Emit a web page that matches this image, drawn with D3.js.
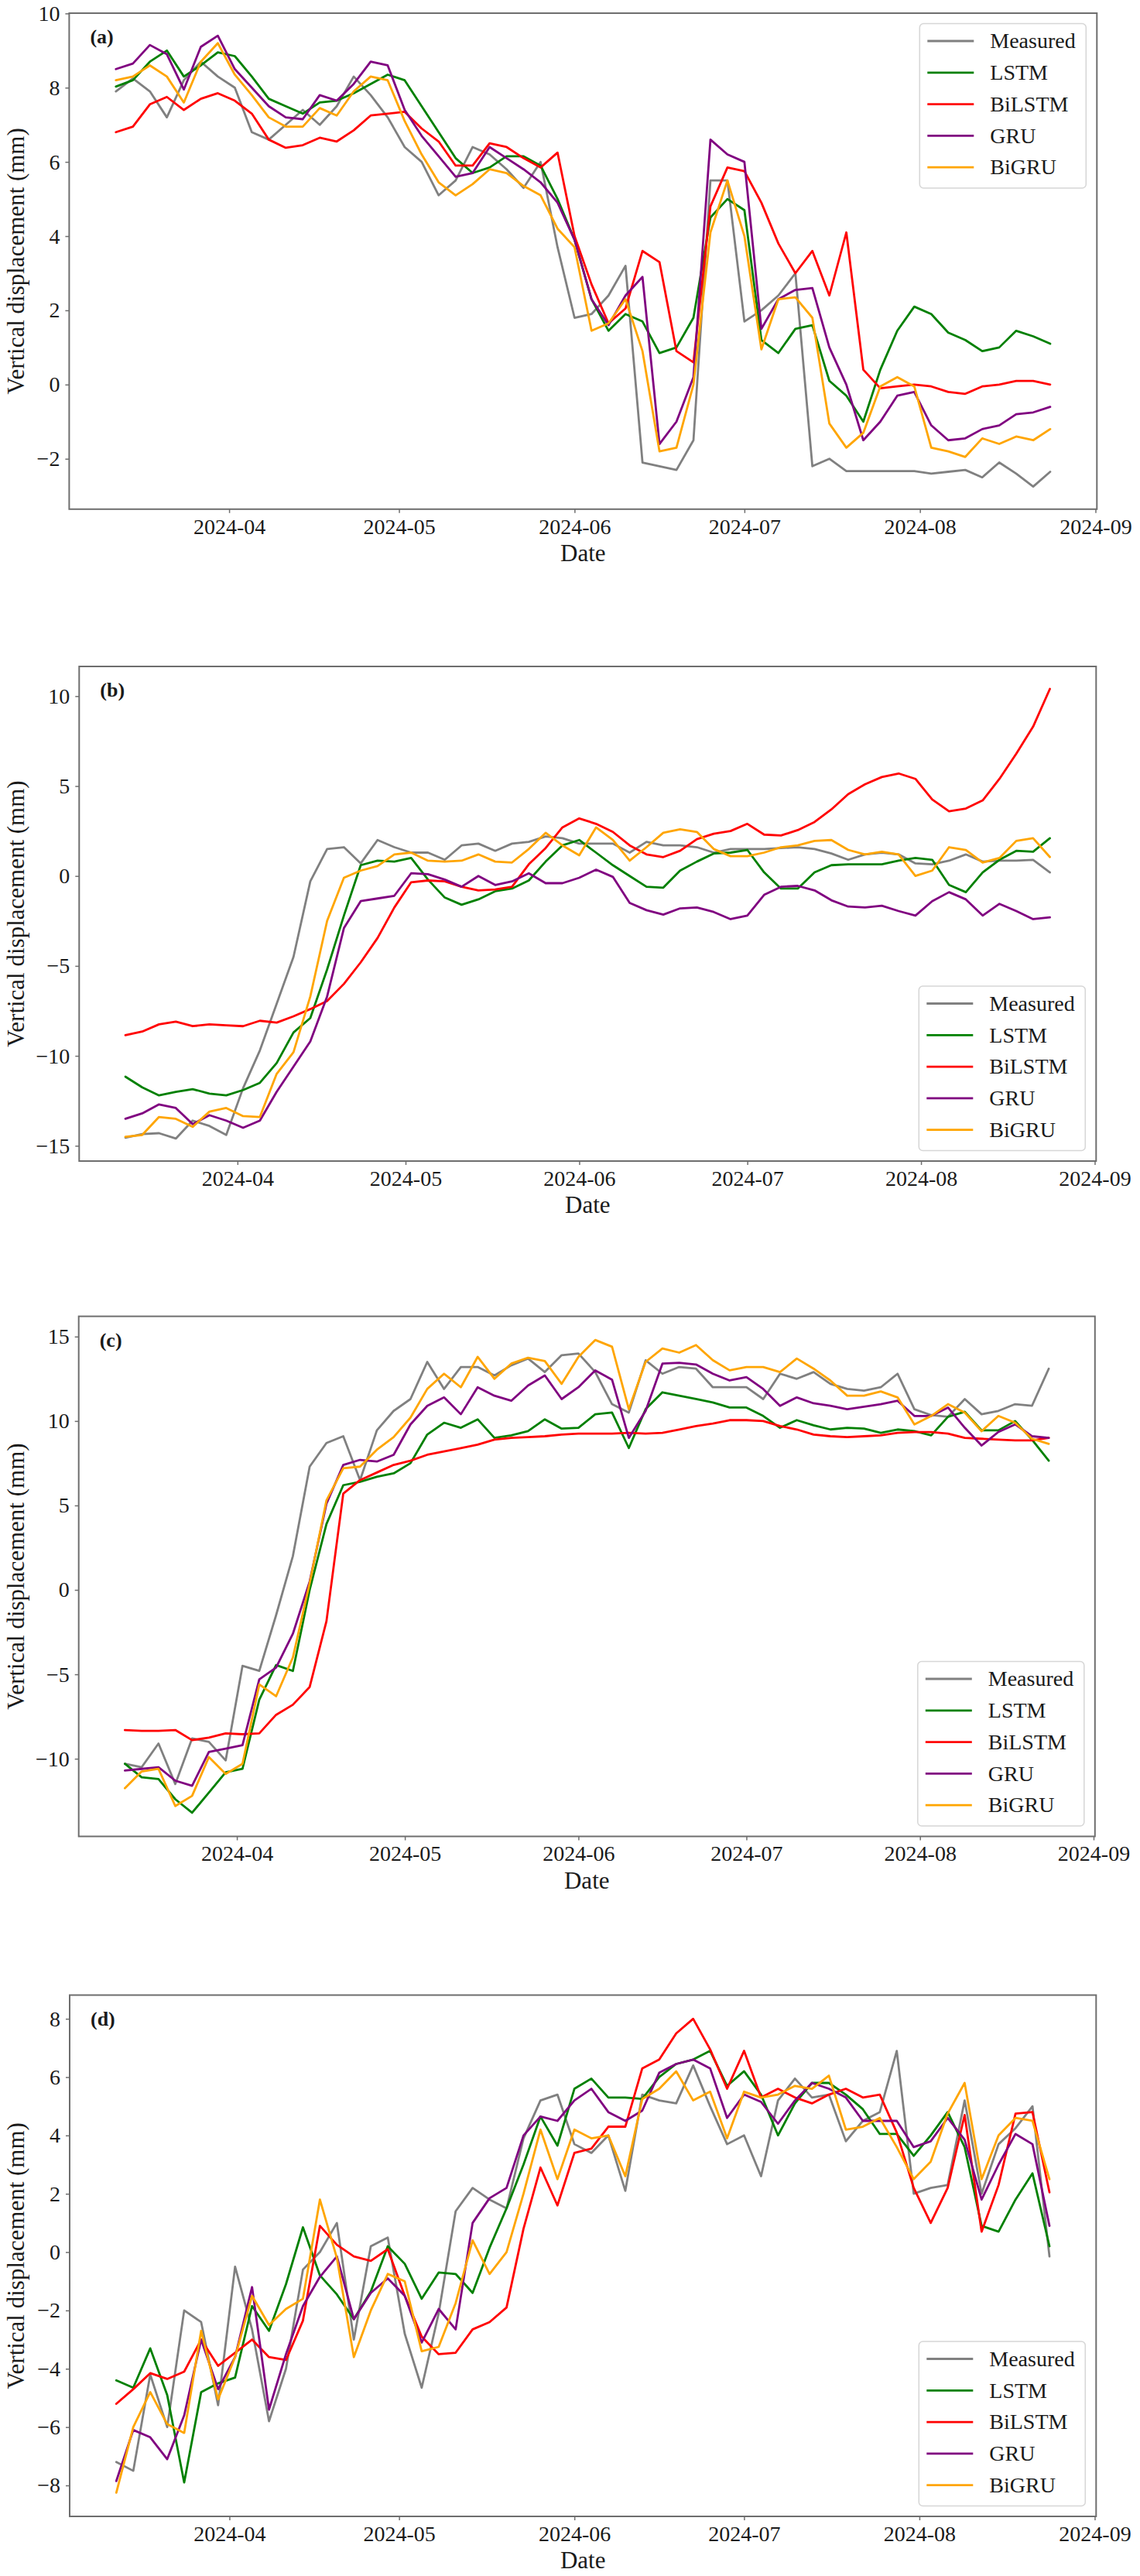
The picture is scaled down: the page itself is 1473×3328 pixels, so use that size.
<!DOCTYPE html>
<html>
<head>
<meta charset="utf-8">
<script src="https://cdn.jsdelivr.net/npm/d3@7"></script>
<style>
  body { margin: 0; background: #fff; }
  svg { display: block; font-family: "Liberation Serif", "Times New Roman", serif; }
</style>
</head>
<body>
<div class="chart"></div>
<script>
// sampling of the curves: one value every 3 days, 2024-03-12 .. 2024-08-24
var startDate = new Date(Date.UTC(2024, 2, 12));
var stepDays = 3;
var nPoints = 56;

var seriesNames = ["Measured", "LSTM", "BiLSTM", "GRU", "BiGRU"];
var seriesColors = ["#808080", "#008000", "#ff0000", "#800080", "#ffa500"];
var monthTicks = ["2024-04", "2024-05", "2024-06", "2024-07", "2024-08", "2024-09"];

// ---- panel (a)
var yTicksA = [-2, 0, 2, 4, 6, 8, 10];
var measuredA = [7.9, 8.25, 7.9, 7.2, 8.2, 8.7, 8.3, 8.0, 6.8, 6.6, 7.0, 7.4, 7.0, 7.5, 8.3, 7.8, 7.2, 6.4, 6.0, 5.1, 5.5, 6.4, 6.2, 5.8, 5.3, 6.0, 3.7,
  1.8, 1.9, 2.4, 3.2, -2.1, -2.2, -2.3, -1.5, 5.5, 5.5, 1.7, 2.0, 2.4, 3.0, -2.2, -2.0, -2.33, -2.33, -2.33, -2.33, -2.33, -2.4, -2.35, -2.3, -2.5, -2.1, -2.4, -2.75, -2.35];
var lstmA = [8.03, 8.2, 8.7, 9.0, 8.3, 8.6, 8.95, 8.85, 8.3, 7.7, 7.5, 7.3, 7.6, 7.65, 7.85, 8.1, 8.35, 8.2, 7.5, 6.8, 6.1, 5.7, 5.85, 6.15, 6.15, 5.9, 5.0,
  3.9, 2.3, 1.45, 1.9, 1.7, 0.85, 1.0, 1.8, 4.5, 5.0, 4.7, 1.2, 0.85, 1.5, 1.6, 0.1, -0.3, -1.0, 0.4, 1.45, 2.1, 1.9, 1.4, 1.2, 0.9, 1.0, 1.45, 1.3, 1.1];
var bilstmA = [6.8, 6.95, 7.55, 7.75, 7.4, 7.7, 7.85, 7.65, 7.3, 6.6, 6.38, 6.45, 6.65, 6.55, 6.85, 7.25, 7.3, 7.35, 6.9, 6.55, 5.9, 5.9, 6.5, 6.4, 6.1, 5.85, 6.25,
  4.0, 2.7, 1.65, 2.05, 3.6, 3.3, 0.9, 0.6, 4.8, 5.85, 5.75, 4.9, 3.8, 3.0, 3.6, 2.4, 4.1, 0.4, -0.1, -0.05, 0.0, -0.05, -0.2, -0.25, -0.05, 0.0, 0.1, 0.1, 0.0];
var gruA = [8.5, 8.65, 9.15, 8.9, 7.95, 9.1, 9.4, 8.5, 8.0, 7.5, 7.2, 7.15, 7.8, 7.65, 8.1, 8.7, 8.6, 7.4, 6.7, 6.15, 5.6, 5.7, 6.4, 6.1, 5.8, 5.45, 4.9,
  3.9, 2.3, 1.6, 2.4, 2.9, -1.6, -1.0, 0.2, 6.6, 6.2, 6.0, 1.5, 2.3, 2.55, 2.6, 1.0, 0.0, -1.5, -1.0, -0.3, -0.2, -1.1, -1.5, -1.45, -1.2, -1.1, -0.8, -0.75, -0.6];
var bigruA = [8.2, 8.3, 8.6, 8.3, 7.6, 8.7, 9.2, 8.35, 7.8, 7.2, 6.95, 6.95, 7.45, 7.25, 7.9, 8.3, 8.2, 7.1, 6.2, 5.45, 5.1, 5.4, 5.8, 5.7, 5.35, 5.1, 4.2,
  3.7, 1.45, 1.65, 2.3, 0.9, -1.8, -1.7, 0.0, 4.1, 5.5, 4.0, 0.95, 2.3, 2.35, 1.8, -1.05, -1.7, -1.3, -0.05, 0.2, -0.05, -1.7, -1.8, -1.95, -1.45, -1.6, -1.4, -1.5, -1.2];

// ---- panel (b)
var yTicksB = [-15, -10, -5, 0, 5, 10];
var measuredB = [-14.55, -14.35, -14.3, -14.6, -13.6, -13.9, -14.4, -11.8, -9.7, -7.1, -4.5, -0.3, 1.5, 1.6, 0.7, 2.0, 1.6, 1.3, 1.3, 0.9, 1.7, 1.8, 1.4, 1.8, 1.9, 2.2, 2.1,
  1.8, 1.8, 1.8, 1.3, 1.9, 1.7, 1.7, 1.6, 1.3, 1.5, 1.5, 1.5, 1.55, 1.6, 1.5, 1.25, 0.9, 1.2, 1.3, 1.2, 0.7, 0.65, 0.85, 1.2, 0.8, 0.85, 0.85, 0.9, 0.2];
var lstmB = [-11.16, -11.75, -12.2, -12.0, -11.85, -12.1, -12.2, -11.9, -11.5, -10.4, -8.7, -7.9, -5.2, -2.2, 0.6, 0.85, 0.8, 1.0, -0.2, -1.2, -1.6, -1.3, -0.85, -0.7, -0.25, 0.8, 1.7,
  2.0, 1.3, 0.6, 0.0, -0.6, -0.65, 0.3, 0.8, 1.25, 1.3, 1.45, 0.2, -0.7, -0.7, 0.2, 0.6, 0.65, 0.65, 0.65, 0.85, 1.0, 0.9, -0.5, -0.9, 0.2, 0.9, 1.4, 1.35, 2.1];
var bilstmB = [-8.85, -8.65, -8.25, -8.1, -8.35, -8.25, -8.3, -8.35, -8.05, -8.15, -7.8, -7.4, -6.95, -6.0, -4.8, -3.45, -1.75, -0.35, -0.25, -0.3, -0.6, -0.8, -0.75, -0.6, 0.65, 1.55, 2.7,
  3.2, 2.9, 2.45, 1.7, 1.2, 1.05, 1.4, 2.05, 2.35, 2.5, 2.9, 2.3, 2.25, 2.55, 3.0, 3.7, 4.55, 5.1, 5.5, 5.7, 5.4, 4.25, 3.6, 3.75, 4.2, 5.4, 6.8, 8.3, 10.4];
var gruB = [-13.5, -13.2, -12.7, -12.9, -13.8, -13.3, -13.6, -14.0, -13.6, -12.0, -10.6, -9.2, -6.7, -2.9, -1.4, -1.25, -1.1, 0.15, 0.1, -0.2, -0.6, 0.0, -0.5, -0.3, 0.15, -0.4, -0.4,
  -0.1, 0.35, -0.05, -1.5, -1.9, -2.15, -1.8, -1.75, -2.0, -2.4, -2.2, -1.05, -0.6, -0.55, -0.8, -1.35, -1.7, -1.75, -1.65, -1.95, -2.2, -1.4, -0.9, -1.3, -2.2, -1.55, -1.95, -2.4, -2.3];
var bigruB = [-14.5, -14.4, -13.4, -13.5, -13.95, -13.1, -12.9, -13.35, -13.4, -11.0, -9.8, -6.7, -2.5, -0.1, 0.3, 0.55, 1.2, 1.3, 0.85, 0.8, 0.85, 1.2, 0.8, 0.75, 1.5, 2.4, 1.7,
  1.15, 2.7, 2.0, 0.85, 1.6, 2.4, 2.6, 2.45, 1.5, 1.1, 1.1, 1.3, 1.6, 1.7, 1.95, 2.0, 1.45, 1.2, 1.35, 1.2, 0.0, 0.3, 1.6, 1.45, 0.75, 1.0, 1.95, 2.1, 1.05];

// ---- panel (c)
var yTicksC = [-10, -5, 0, 5, 10, 15];
var measuredC = [-10.3, -10.5, -9.1, -11.5, -8.8, -9.0, -10.1, -4.5, -4.8, -1.5, 2.0, 7.3, 8.7, 9.1, 6.5, 9.45, 10.6, 11.3, 13.5, 11.9, 13.2, 13.2, 12.7, 13.3, 13.7, 12.9, 13.9,
  14.0, 12.9, 11.0, 10.5, 13.6, 12.8, 13.2, 13.1, 12.0, 12.0, 12.0, 11.3, 12.8, 12.5, 12.9, 12.2, 11.9, 11.8, 12.0, 12.8, 10.7, 10.35, 10.25, 11.3, 10.4, 10.6, 11.0, 10.9, 13.1];
var lstmC = [-10.3, -11.1, -11.2, -12.4, -13.2, -12.0, -10.8, -10.6, -6.5, -4.45, -4.8, 0.0, 3.9, 6.2, 6.4, 6.7, 6.9, 7.5, 9.2, 9.9, 9.6, 10.1, 9.0, 9.15, 9.4, 10.1, 9.55,
  9.6, 10.4, 10.5, 8.4, 10.7, 11.7, 11.5, 11.3, 11.1, 10.8, 10.8, 10.3, 9.6, 10.05, 9.75, 9.5, 9.6, 9.55, 9.3, 9.5, 9.4, 9.15, 10.25, 10.55, 9.45, 9.45, 10.0, 8.9, 7.65];
var bilstmC = [-8.3, -8.35, -8.35, -8.3, -8.9, -8.75, -8.5, -8.55, -8.5, -7.4, -6.8, -5.75, -1.85, 5.7, 6.5, 6.95, 7.4, 7.65, 8.0, 8.2, 8.4, 8.6, 8.9, 9.0, 9.05, 9.1, 9.2,
  9.25, 9.25, 9.25, 9.3, 9.25, 9.3, 9.5, 9.7, 9.85, 10.05, 10.05, 10.0, 9.7, 9.5, 9.2, 9.1, 9.05, 9.1, 9.15, 9.3, 9.35, 9.35, 9.25, 9.0, 8.95, 8.9, 8.85, 8.85, 9.0];
var gruC = [-10.7, -10.6, -10.5, -11.3, -11.6, -9.6, -9.4, -9.2, -5.3, -4.6, -2.6, 0.5, 5.1, 7.4, 7.7, 7.6, 8.0, 9.8, 10.9, 11.4, 10.4, 12.0, 11.5, 11.2, 12.1, 12.7, 11.3,
  12.0, 13.0, 12.45, 9.0, 10.6, 13.4, 13.45, 13.35, 12.8, 12.4, 12.6, 11.9, 10.9, 11.4, 11.05, 10.9, 10.7, 10.85, 11.0, 11.2, 10.3, 10.3, 10.8, 9.6, 8.55, 9.35, 9.8, 9.1, 9.0];
var bigruC = [-11.75, -10.75, -10.6, -12.8, -12.2, -9.9, -10.9, -10.3, -5.6, -6.3, -4.0, 0.4, 5.3, 7.2, 7.3, 8.3, 9.05, 10.2, 11.9, 12.8, 12.0, 13.8, 12.5, 13.4, 13.75, 13.55, 12.2,
  13.8, 14.8, 14.4, 10.7, 13.5, 14.3, 14.05, 14.5, 13.6, 13.0, 13.2, 13.2, 12.9, 13.7, 13.1, 12.4, 11.5, 11.5, 11.75, 11.4, 9.8, 10.3, 11.0, 10.5, 9.4, 10.3, 9.9, 8.95, 8.65];

// ---- panel (d)
var yTicksD = [-8, -6, -4, -2, 0, 2, 4, 6, 8];
var measuredD = [-7.2, -7.5, -4.2, -6.0, -2.0, -2.4, -5.25, -0.5, -2.65, -5.8, -4.0, -0.6, 0.0, 1.0, -3.0, 0.2, 0.5, -2.8, -4.65, -2.1, 1.4, 2.2, 1.8, 1.5, 3.9, 5.2, 5.4,
  3.7, 3.4, 4.0, 2.1, 5.4, 5.2, 5.1, 6.4, 5.0, 3.7, 4.0, 2.6, 5.2, 5.95, 5.3, 5.4, 3.8, 4.5, 4.8, 6.9, 2.0, 2.2, 2.3, 5.2, 2.0, 3.7, 4.25, 5.0, -0.15];
var lstmD = [-4.4, -4.65, -3.3, -4.9, -7.9, -4.8, -4.5, -4.3, -1.85, -2.7, -1.1, 0.85, -0.8, -1.45, -2.3, -1.35, 0.2, -0.4, -1.6, -0.7, -0.75, -1.4, 0.15, 1.5, 3.0, 4.65, 3.65,
  5.6, 5.95, 5.3, 5.3, 5.25, 6.0, 6.45, 6.6, 6.9, 5.7, 6.2, 5.4, 4.0, 5.1, 5.8, 5.8, 5.4, 4.9, 4.05, 4.05, 3.3, 4.0, 4.8, 3.6, 0.9, 0.7, 1.8, 2.7, 0.2];
var bilstmD = [-5.2, -4.7, -4.15, -4.35, -4.1, -3.0, -3.9, -3.45, -3.0, -3.6, -3.7, -2.35, 0.9, 0.25, -0.15, -0.3, 0.1, -1.5, -2.9, -3.5, -3.45, -2.65, -2.4, -1.9, 0.8, 2.9, 1.6,
  3.4, 3.55, 4.3, 4.3, 6.3, 6.6, 7.5, 8.0, 6.95, 5.6, 6.9, 5.3, 5.6, 5.3, 5.1, 5.4, 5.6, 5.3, 5.4, 4.1, 2.2, 1.0, 2.2, 4.7, 0.7, 2.3, 4.75, 4.8, 2.05];
var gruD = [-7.85, -6.1, -6.35, -7.1, -5.6, -3.0, -4.7, -3.6, -1.2, -5.4, -3.5, -1.85, -0.85, -0.15, -2.3, -1.4, -0.9, -1.5, -3.1, -1.95, -2.65, 1.0, 1.85, 2.2, 4.0, 4.65, 4.5,
  5.2, 5.6, 4.8, 4.5, 4.85, 6.15, 6.45, 6.6, 6.3, 4.6, 5.4, 5.15, 4.4, 5.2, 5.8, 5.6, 5.3, 4.5, 4.5, 4.5, 3.6, 3.8, 4.6, 3.85, 1.8, 3.0, 4.05, 3.7, 0.9];
var bigruD = [-8.25, -6.0, -4.8, -5.9, -6.2, -2.7, -5.05, -3.6, -1.5, -2.5, -1.95, -1.6, 1.8, -0.2, -3.6, -2.0, -0.75, -1.0, -3.4, -3.25, -1.75, 0.4, -0.75, 0.0, 2.0, 4.2, 2.5,
  4.2, 3.9, 4.0, 2.6, 5.25, 5.6, 6.2, 5.2, 5.5, 3.9, 5.5, 5.3, 5.4, 5.7, 5.6, 6.05, 4.2, 4.3, 4.6, 3.6, 2.5, 3.1, 4.75, 5.8, 2.5, 4.0, 4.6, 4.5, 2.5];

// layout of the four stacked axes (pixel frame of each plot area)
var panels = [
  { label: "(a)", series: [measuredA, lstmA, bilstmA, gruA, bigruA], yTicks: yTicksA,
    left: 89.4, right: 1417.3, top: 17, bottom: 657.8, legend: "upper" },
  { label: "(b)", series: [measuredB, lstmB, bilstmB, gruB, bigruB], yTicks: yTicksB,
    left: 102.3, right: 1416.3, top: 861, bottom: 1500, legend: "lower" },
  { label: "(c)", series: [measuredC, lstmC, bilstmC, gruC, bigruC], yTicks: yTicksC,
    left: 101.7, right: 1414.8, top: 1700.6, bottom: 2372.5, legend: "lower" },
  { label: "(d)", series: [measuredD, lstmD, bilstmD, gruD, bigruD], yTicks: yTicksD,
    left: 90, right: 1416.3, top: 2577.5, bottom: 3251, legend: "lower" }
];

var svgWidth = 1473;
var svgHeight = 3328;
var tickFontSize = 28;
var labelFontSize = 31;
var spineColor = "#6e6e6e";

var svg = d3.select(".chart")
  .append("svg")
  .attr("width", svgWidth)
  .attr("height", svgHeight);

svg.append("rect")
  .attr("width", svgWidth)
  .attr("height", svgHeight)
  .attr("fill", "#fff");

var dates = d3.range(nPoints).map(function(i) {
  return d3.utcDay.offset(startDate, i * stepDays);
});
var parseMonth = d3.utcParse("%Y-%m");

// matplotlib style 5% margins around the data
function padded(extent) {
  var pad = (extent[1] - extent[0]) * 0.05;
  return [extent[0] - pad, extent[1] + pad];
}

var xExtent = padded([+dates[0], +dates[dates.length - 1]]);

panels.forEach(function(p) {
  p.series.forEach(function(s, i) {
    if (s.length !== nPoints) console.warn(p.label, seriesNames[i], s.length);
  });

  var xScale = d3.scaleUtc()
    .domain([new Date(xExtent[0]), new Date(xExtent[1])])
    .range([p.left, p.right]);

  var allValues = d3.merge(p.series);
  var yScale = d3.scaleLinear()
    .domain(padded(d3.extent(allValues)))
    .range([p.bottom, p.top]);

  var g = svg.append("g");

  // data lines, measured first so the models sit on top
  var line = d3.line()
    .x(function(d, i) { return xScale(dates[i]); })
    .y(function(d) { return yScale(d); });

  g.selectAll("path.series")
    .data(p.series)
    .enter()
    .append("path")
    .attr("class", "series")
    .attr("d", line)
    .attr("fill", "none")
    .attr("stroke", function(d, i) { return seriesColors[i]; })
    .attr("stroke-width", 2.8)
    .attr("stroke-linejoin", "round")
    .attr("stroke-linecap", "round");

  // frame
  g.append("rect")
    .attr("x", p.left)
    .attr("y", p.top)
    .attr("width", p.right - p.left)
    .attr("height", p.bottom - p.top)
    .attr("fill", "none")
    .attr("stroke", spineColor)
    .attr("stroke-width", 2);

  // axes
  var bottomAxis = d3.axisBottom(xScale)
    .tickValues(monthTicks.map(parseMonth))
    .tickFormat(d3.utcFormat("%Y-%m"))
    .tickSize(5)
    .tickPadding(7);

  var leftAxis = d3.axisLeft(yScale)
    .tickValues(p.yTicks)
    .tickFormat(d3.format("d"))
    .tickSize(5)
    .tickPadding(7);

  var xAxis = g.append("g")
    .attr("transform", `translate(0, ${p.bottom})`)
    .call(bottomAxis);

  var yAxis = g.append("g")
    .attr("transform", `translate(${p.left}, 0)`)
    .call(leftAxis);

  [xAxis, yAxis].forEach(function(ax) {
    ax.select(".domain").remove();
    ax.selectAll("line").attr("stroke", spineColor).attr("stroke-width", 1.5);
    ax.selectAll("text")
      .attr("font-family", "Liberation Serif, Times New Roman, serif")
      .attr("font-size", tickFontSize)
      .attr("fill", "#1a1a1a");
  });

  // axis titles
  g.append("text")
    .attr("x", (p.left + p.right) / 2)
    .attr("y", p.bottom + 67)
    .attr("text-anchor", "middle")
    .attr("font-size", labelFontSize)
    .attr("fill", "#1a1a1a")
    .text("Date");

  g.append("text")
    .attr("transform", `translate(31, ${(p.top + p.bottom) / 2}) rotate(-90)`)
    .attr("text-anchor", "middle")
    .attr("font-size", labelFontSize)
    .attr("fill", "#1a1a1a")
    .text("Vertical displacement (mm)");

  // panel letter
  g.append("text")
    .attr("x", p.left + 27)
    .attr("y", p.top + 39)
    .attr("font-size", 26)
    .attr("font-weight", "bold")
    .attr("fill", "#1a1a1a")
    .text(p.label);

  // legend
  var boxW = 215, boxH = 212.5;
  var boxX = p.right - 14 - boxW;
  var boxY = p.legend === "upper" ? p.top + 13.5 : p.bottom - 13.5 - boxH;

  var legend = g.append("g")
    .attr("transform", `translate(${boxX}, ${boxY})`);

  legend.append("rect")
    .attr("width", boxW)
    .attr("height", boxH)
    .attr("rx", 5)
    .attr("fill", "#fff")
    .attr("fill-opacity", 0.8)
    .attr("stroke", "#d6d6d6")
    .attr("stroke-width", 1.5);

  var items = legend.selectAll("g.item")
    .data(seriesNames)
    .enter()
    .append("g")
    .attr("class", "item")
    .attr("transform", function(d, i) { return `translate(0, ${22.5 + i * 40.8})`; });

  items.append("line")
    .attr("x1", 10)
    .attr("x2", 70)
    .attr("stroke", function(d, i) { return seriesColors[i]; })
    .attr("stroke-width", 2.8);

  items.append("text")
    .attr("x", 91)
    .attr("dy", "0.33em")
    .attr("font-size", tickFontSize)
    .attr("fill", "#1a1a1a")
    .text(function(d) { return d; });
});
</script>
</body>
</html>
